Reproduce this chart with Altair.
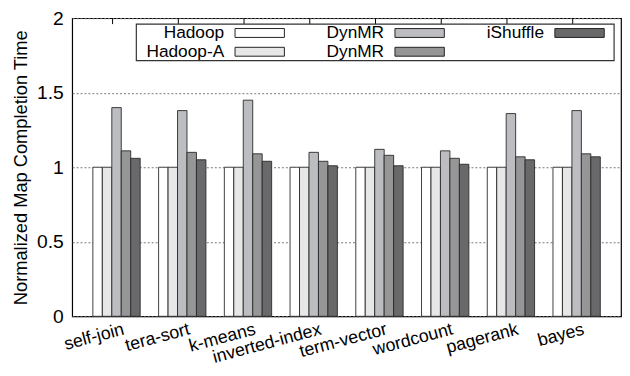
import altair as alt
import pandas as pd

categories = ["self-join", "tera-sort", "k-means", "inverted-index",
              "term-vector", "wordcount", "pagerank", "bayes"]
series = ["Hadoop", "Hadoop-A", "DynMR", "DynMR ", "iShuffle"]
hadoop = [1, 1, 1, 1, 1, 1, 1, 1]
hadoop_a = [1, 1, 1, 1, 1, 1, 1, 1]
dynmr1 = [1.40, 1.38, 1.45, 1.10, 1.12, 1.11, 1.36, 1.38]
dynmr2 = [1.11, 1.10, 1.09, 1.04, 1.08, 1.06, 1.07, 1.09]
ishuffle = [1.06, 1.05, 1.04, 1.01, 1.01, 1.02, 1.05, 1.07]
colors = ["#ffffff", "#e6e7e6", "#bcbdc1", "#969696", "#69696b"]
y_ticks = [0, 0.5, 1, 1.5, 2]

values = [hadoop, hadoop_a, dynmr1, dynmr2, ishuffle]
rows = []
for s, vals in zip(series, values):
    for c, v in zip(categories, vals):
        rows.append({"category": c, "series": s, "value": v})
df = pd.DataFrame(rows)

# legend entries (gnuplot style: text, then swatch; filled column by column)
leg_df = pd.DataFrame({
    "series": series,
    "label": [s.strip() for s in series],
    "col": [i // 2 for i in range(len(series))],
    "row": [i % 2 for i in range(len(series))],
})

FONT = "Liberation Sans"
color_scale = alt.Scale(domain=series, range=colors)
xscale = alt.Scale(domain=categories, paddingInner=0.28, paddingOuter=0.315)

bars = alt.Chart(df).mark_bar(stroke="#2a2a2a", strokeWidth=0.9).encode(
    x=alt.X("category:N", sort=categories, scale=xscale,
            axis=alt.Axis(title=None, labelAngle=-15, labelAlign="right",
                          labelBaseline="top", labelFontSize=18, labelFont=FONT,
                          labelColor="black", ticks=False, domain=False,
                          labelPadding=4, labelOffset=5)),
    xOffset=alt.XOffset("series:N", sort=series,
                        scale=alt.Scale(paddingInner=0, paddingOuter=0)),
    y=alt.Y("value:Q", scale=alt.Scale(domain=[0, 2], nice=False),
            axis=alt.Axis(title="Normalized Map Completion Time", values=y_ticks,
                          format="~g",
                          labelFontSize=19.5, labelFont=FONT, labelColor="black",
                          titleFontSize=18.5, titleFont=FONT, titleFontWeight="normal",
                          titleColor="black", titlePadding=6, ticks=False,
                          labelPadding=9, domain=False,
                          grid=True, gridDash=[2, 2], gridColor="#777777",
                          gridWidth=1)),
    color=alt.Color("series:N", scale=color_scale, legend=None),
)

tick_df = pd.DataFrame({"category": categories})
top_ticks = alt.Chart(tick_df).mark_rule(color="black", strokeWidth=1,
                                         xOffset=-4).encode(
    x=alt.X("category:N", sort=categories, scale=xscale, axis=None),
    y=alt.value(0), y2=alt.value(6),
)

legend_box = alt.Chart(pd.DataFrame({"k": [0]})).mark_rect(
    fill="white", stroke="#333333", strokeWidth=1.2).encode(
    x=alt.value(65), x2=alt.value(549), y=alt.value(6), y2=alt.value(43))

leg_x_sym = alt.Scale(domain=[0, 1], range=[190, 352])
leg_x_txt = alt.Scale(domain=[0, 1], range=[154, 316])
leg_y = alt.Scale(domain=[0, 1], range=[15, 34])

legend_sym = alt.Chart(leg_df).mark_point(
    filled=True, shape="M-1,-0.18H1V0.18H-1Z", size=2500,
    stroke="#222222", strokeWidth=1, opacity=1).encode(
    x=alt.X("col:Q", scale=leg_x_sym, axis=None),
    y=alt.Y("row:Q", scale=leg_y, axis=None),
    color=alt.Color("series:N", scale=color_scale, legend=None),
)

legend_txt = alt.Chart(leg_df).mark_text(
    align="right", baseline="middle", fontSize=17.5, font=FONT,
    color="black").encode(
    x=alt.X("col:Q", scale=leg_x_txt, axis=None),
    y=alt.Y("row:Q", scale=leg_y, axis=None),
    text="label:N",
)

chart = alt.layer(bars, top_ticks, legend_box, legend_sym, legend_txt).resolve_scale(
    x="independent", y="independent"
).properties(
    width=556, height=302,
    autosize=alt.AutoSizeParams(type="none"),
    padding={"left": 65, "top": 8, "right": 1, "bottom": 46},
).configure_view(stroke="black", strokeWidth=1.2)

chart.save("out.html", embed_options={"renderer": "svg", "actions": False})
